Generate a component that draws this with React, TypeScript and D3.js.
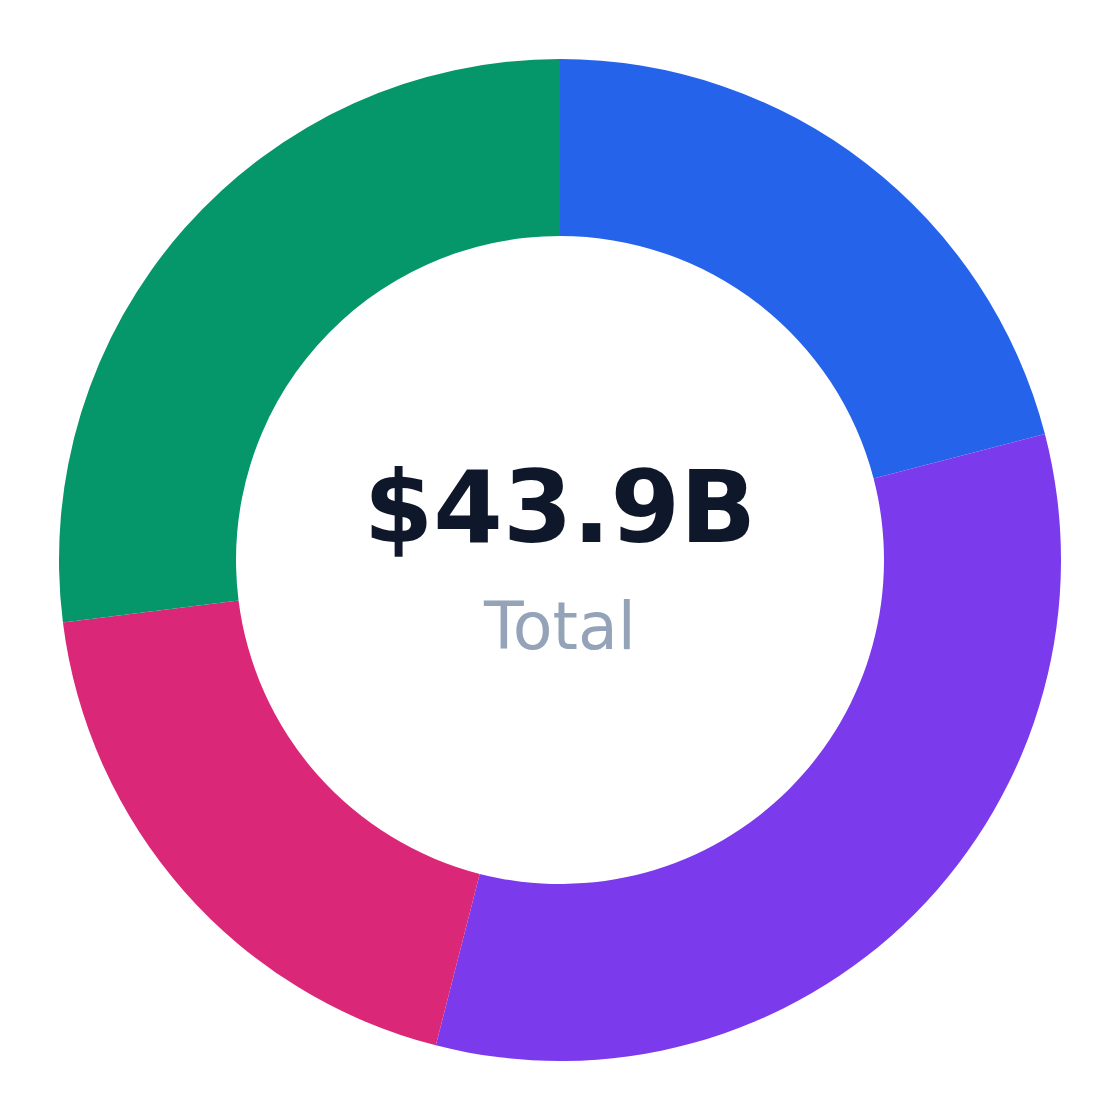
import { useEffect, useRef } from 'react';
import * as d3 from 'd3';

const SEGMENT_NAMES = ['Segment A', 'Segment B', 'Segment C', 'Segment D'];
const SEGMENT_VALUES = [9.2, 14.5, 8.35, 11.85];
const SEGMENT_COLORS = ['#2563eb', '#7c3aed', '#db2777', '#059669'];
const TOTAL_LABEL = 'Total';

const WIDTH = 1120;
const HEIGHT = 1120;
const OUTER_RADIUS = 501;
const INNER_RADIUS = 324;

interface Slice {
  name: string;
  value: number;
  color: string;
}

export default function App() {
  const svgRef = useRef<SVGSVGElement>(null);

  useEffect(() => {
    document.body.style.margin = '0';
    const data: Slice[] = SEGMENT_NAMES.map((name, i) => ({
      name,
      value: SEGMENT_VALUES[i],
      color: SEGMENT_COLORS[i],
    }));
    const total = d3.sum(data, (d) => d.value);

    const svg = d3.select(svgRef.current);
    svg.selectAll('*').remove();
    const g = svg.append('g').attr('transform', `translate(${WIDTH / 2},${HEIGHT / 2})`);

    const pie = d3
      .pie<Slice>()
      .value((d) => d.value)
      .sort(null);
    const arc = d3.arc<d3.PieArcDatum<Slice>>().innerRadius(INNER_RADIUS).outerRadius(OUTER_RADIUS);

    g.selectAll('path')
      .data(pie(data))
      .enter()
      .append('path')
      .attr('d', arc)
      .attr('fill', (d) => d.data.color);

    g.append('text')
      .attr('text-anchor', 'middle')
      .attr('y', -18)
      .attr('font-family', 'DejaVu Sans, sans-serif')
      .attr('font-size', 100)
      .attr('font-weight', 700)
      .attr('fill', '#0f172a')
      .text(`$${total.toFixed(1)}B`);

    g.append('text')
      .attr('text-anchor', 'middle')
      .attr('y', 89)
      .attr('font-family', 'DejaVu Sans, sans-serif')
      .attr('font-size', 65)
      .attr('fill', '#94a3b8')
      .text(TOTAL_LABEL);
  }, []);

  return <svg ref={svgRef} width={WIDTH} height={HEIGHT} style={{ display: 'block' }} />;
}
